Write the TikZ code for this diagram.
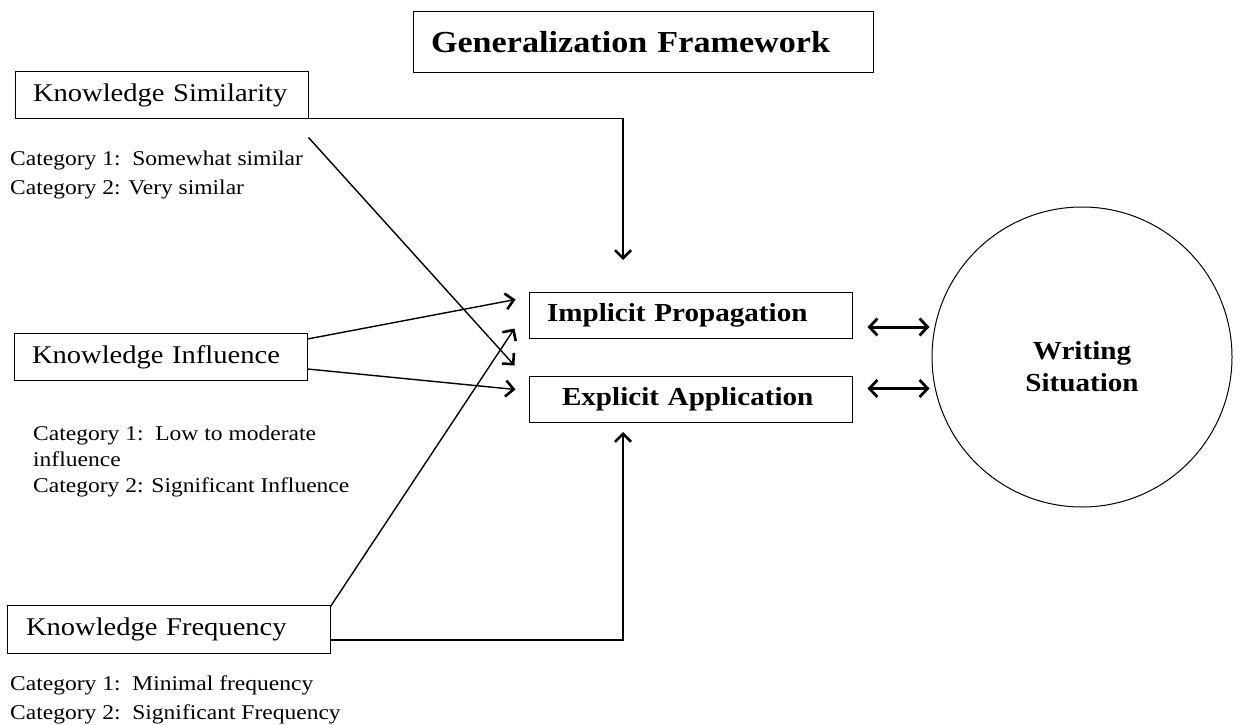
\documentclass[tikz,border=0pt]{standalone}
\usepackage{fontspec}
\setmainfont{Liberation Serif}[FakeStretch=1.12]
\usetikzlibrary{arrows.meta, positioning, calc}

\begin{document}
\begin{tikzpicture}[
  x=1pt, y=-1pt,
  node distance = 37pt and 20pt,
  box/.style     = {rectangle, draw, line width=1pt, align=left,
                    minimum height=46pt, inner xsep=18pt,
                    font=\fontsize{25.5}{30}\selectfont},
  headbox/.style = {box, minimum width=460pt, minimum height=61pt,
                    text width=424pt, font=\fontsize{30.5}{34}\selectfont\bfseries},
  factbox/.style = {box, minimum width=#1, text width=#1-36pt},
  modebox/.style = {box, minimum width=323pt, text width=323pt-2*#1,
                    inner xsep=#1, font=\fontsize{26}{30}\selectfont\bfseries},
  sitcircle/.style={circle, draw, line width=1pt, minimum size=300pt},
  sittext/.style = {align=center, font=\fontsize{26}{32}\selectfont\bfseries},
  cat/.style     = {align=left, inner sep=0pt, font=\fontsize{21}{29}\selectfont},
  arrow/.style   = {-{Straight Barb[length=8pt, width=16pt, line width=2.6pt]},
                    line width=1.4pt},
  biarrow/.style = {{Straight Barb[length=8pt, width=17pt, line width=2.8pt]}-%
                    {Straight Barb[length=8pt, width=17pt, line width=2.8pt]},
                    line width=3pt},
]
\useasboundingbox (0,0) rectangle (1253,725);

%% --- Title ---
\node[headbox] (head) at (643,42.5) {Generalization Framework};

%% --- Knowledge factors ---
\node[factbox=293pt, minimum height=46pt] (sim)  at (161.5,95) {Knowledge Similarity};
\node[factbox=293pt, minimum height=47pt] (infl) at (160.5,357) {Knowledge Influence};
\node[factbox=321pt, minimum height=48pt, inner xsep=19pt] (freq) at (168.5,629) {Knowledge Frequency};

%% --- Categories ---
\node[cat, anchor=north west] (simcat) at (10,151)
  {Category 1:\ \ Somewhat similar\\Category 2: Very similar};
\node[cat, anchor=north west, font=\fontsize{21}{26}\selectfont] (inflcat) at (33,426)
  {Category 1:\ \ Low to moderate\\influence\\Category 2: Significant Influence};
\node[cat, anchor=north west] (freqcat) at (10,676)
  {Category 1:\ \ Minimal frequency\\Category 2:\ \ Significant Frequency};

%% --- Generalization modes ---
\node[modebox=18pt] (impl) at (690.5,315) {Implicit Propagation};
\node[modebox=33pt, below=37pt of impl] (expl) {Explicit Application};

%% --- Writing situation ---
\node[sitcircle] (sit) at (1082,357) {};
\node[sittext] (sitlabel) at ([yshift=-10pt]sit.center) {Writing\\Situation};

%% --- Arrow tips ---
\coordinate (simtip)  at (623,260);
\coordinate (freqtip) at (623,432);

%% --- Arrows into the modes ---
\draw[arrow] (sim.south east) -| (simtip);
\draw[arrow] ([shift={(0,19)}]sim.south east) -- ([shift={(-14,27)}]impl.south west);
\draw[arrow] ([shift={(0,6)}]infl.north east) -- ([shift={(-13,8)}]impl.north west);
\draw[arrow] ([shift={(0,-12)}]infl.south east) -- ([shift={(-13,14)}]expl.north west);
\draw[arrow] ([yshift=-2pt]freq.north east) -- ([shift={(-14,-10)}]impl.south west);
\draw[arrow] ([yshift=-11pt]freq.east) -| (freqtip);

%% --- Modes <-> situation ---
\draw[biarrow] ([shift={(15,12)}]impl.east) -- ([shift={(-2,12)}]impl.east -| sit.west);
\draw[biarrow] ([shift={(15,-10.5)}]expl.east) -- ([shift={(-2,-10.5)}]expl.east -| sit.west);

\end{tikzpicture}
\end{document}
